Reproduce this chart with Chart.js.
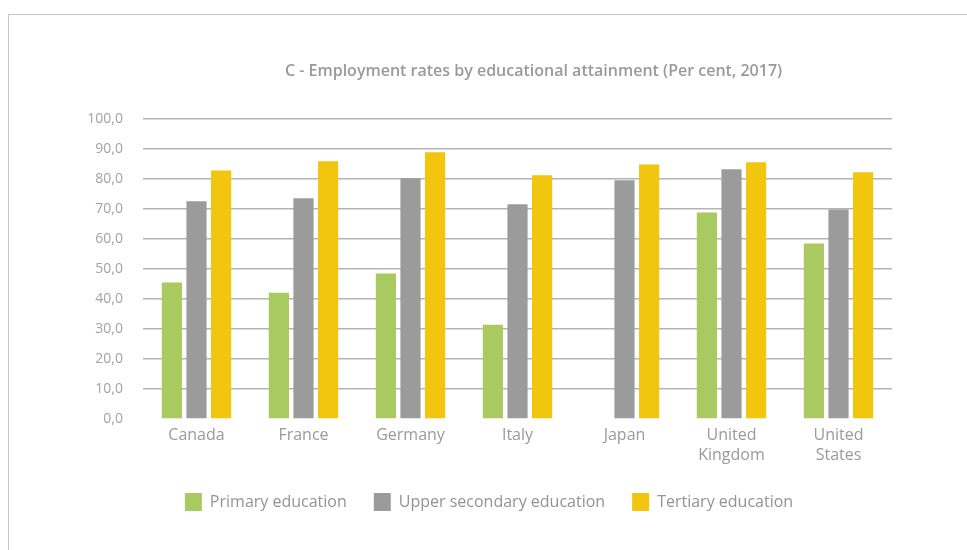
<!DOCTYPE html>
<html>
<head>
<meta charset="utf-8">
<script src="https://cdn.jsdelivr.net/npm/chart.js@4/dist/chart.umd.min.js"></script>
<style>
  html, body { margin: 0; padding: 0; background: #fff; }
  #wrap { position: relative; width: 967px; height: 550px; overflow: hidden; }
  #frame {
    position: absolute; left: 8px; top: 14px; width: 1000px; height: 600px;
    border-left: 1px solid #c6c6c6; border-top: 1px solid #c6c6c6;
  }
  #chartEmployment { position: absolute; left: 0; top: 0; }
</style>
</head>
<body>
<div id="wrap">
  <div id="frame"></div>
  <canvas id="chartEmployment" width="967" height="550"></canvas>
</div>
<script>
const countries = ['Canada', 'France', 'Germany', 'Italy', 'Japan', ['United', 'Kingdom'], ['United', 'States']];
const primary = [45.5, 42.1, 48.5, 31.4, null, 68.9, 58.5];
const upperSecondary = [72.6, 73.6, 80.3, 71.6, 79.6, 83.3, 69.9];
const tertiary = [82.9, 86.0, 89.0, 81.3, 84.9, 85.6, 82.3];

const grey = '#9a9a9a';
Chart.defaults.font.family = '"Open Sans", Lato, sans-serif';
Chart.defaults.color = grey;

// nudge title and legend blocks to the right
const blockShift = {
  id: 'blockShift',
  afterLayout: function (chart) {
    if (chart.titleBlock) {
      chart.titleBlock.left += 16;
      chart.titleBlock.right += 16;
    }
    if (chart.legend) {
      chart.legend.left += 38;
      chart.legend.right += 38;
    }
  }
};

const data = {
  labels: countries,
  datasets: [{
    label: 'Primary education',
    data: primary,
    backgroundColor: '#a9c961'
  }, {
    label: 'Upper secondary education',
    data: upperSecondary,
    backgroundColor: '#9b9b9b'
  }, {
    label: 'Tertiary education',
    data: tertiary,
    backgroundColor: '#f2c50f'
  }]
};

const config = {
  type: 'bar',
  data: data,
  plugins: [blockShift],
  options: {
    responsive: false,
    animation: false,
    categoryPercentage: 0.69,
    barPercentage: 0.82,
    layout: {
      padding: { top: 55, left: 10, right: 75, bottom: 29 }
    },
    scales: {
      x: {
        grid: { display: false, drawTicks: false },
        border: { display: false },
        afterFit: function (scale) {
          scale.height = 47;
        },
        ticks: {
          padding: 6,
          color: grey,
          font: { size: 16, lineHeight: 1.25 }
        }
      },
      y: {
        min: 0,
        max: 100,
        afterFit: function (scale) {
          scale.width = 133;
        },
        border: { display: false },
        grid: {
          drawTicks: false,
          lineWidth: 1.5,
          color: function (ctx) {
            return ctx.tick && ctx.tick.value === 0 ? 'rgba(0,0,0,0)' : '#b4b4b4';
          }
        },
        ticks: {
          stepSize: 10,
          padding: 20,
          color: '#a3a3a3',
          font: { size: 14 },
          callback: function (value) {
            return value.toFixed(1).replace('.', ',');
          }
        }
      }
    },
    plugins: {
      title: {
        display: true,
        fullSize: false,
        text: 'C - Employment rates by educational attainment (Per cent, 2017)',
        color: '#9a9a9a',
        font: { size: 16, weight: '600' },
        padding: { top: 7, bottom: 38 }
      },
      legend: {
        position: 'bottom',
        labels: {
          boxWidth: 17,
          boxHeight: 18,
          padding: 27,
          color: '#939393',
          font: { size: 16 }
        }
      },
      tooltip: { enabled: false }
    }
  }
};

const chartEmployment = new Chart(
  document.getElementById('chartEmployment'),
  config
);
</script>
</body>
</html>
